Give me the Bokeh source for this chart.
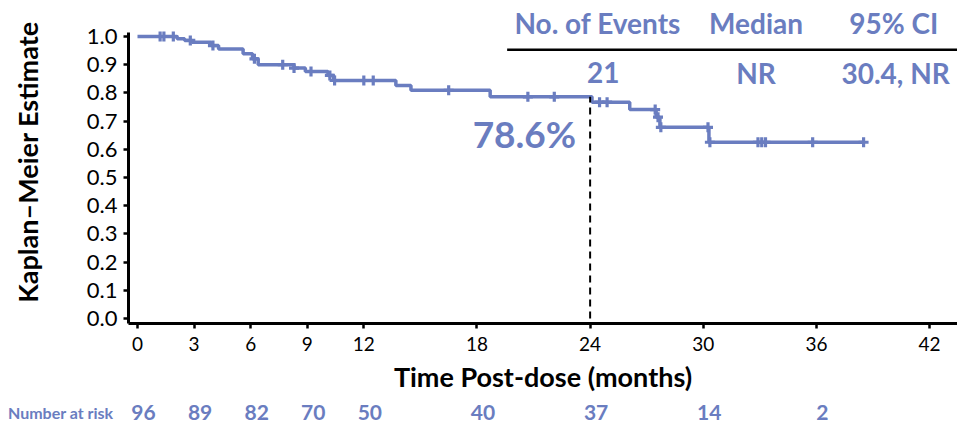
import numpy as np
from bokeh.plotting import figure
from bokeh.layouts import column
from bokeh.models import Label, FixedTicker, Range1d, NumeralTickFormatter
from bokeh.embed import file_html
from bokeh.resources import INLINE
from bokeh.core.properties import value

# ---- data ----
step_times = [0, 2.1, 2.5, 2.9, 3.9, 4.3, 5.6, 6.1, 6.4, 8.3, 8.9, 10.1, 10.4,
              13.7, 14.5, 18.7, 24.1, 26.1, 27.5, 27.7, 30.3]
step_surv = [1.0, 0.992, 0.986, 0.980, 0.968, 0.956, 0.939, 0.921, 0.900, 0.888,
             0.876, 0.862, 0.844, 0.826, 0.809, 0.786, 0.767, 0.741, 0.714, 0.678, 0.625]
last_followup = 38.5
censor_times = [1.2, 1.4, 1.9, 2.8, 4.0, 6.2, 7.7, 8.3, 9.2, 10.2, 10.45, 12.0, 12.5,
                16.5, 20.7, 22.1, 24.5, 24.9, 27.45, 27.6, 27.75, 30.25, 30.35,
                32.9, 33.1, 33.3, 35.8, 38.5]
x_ticks = [0, 3, 6, 9, 12, 18, 24, 30, 36, 42]
y_ticks = [0.0, 0.1, 0.2, 0.3, 0.4, 0.5, 0.6, 0.7, 0.8, 0.9, 1.0]
risk_times = [0, 3, 6, 9, 12, 18, 24, 30, 36]
risk_counts = ["96", "89", "82", "70", "50", "40", "37", "14", "2"]
risk_title = "Number at risk"
landmark_time = 24
landmark_surv = 0.786
landmark_text = "78.6%"
table_headers = ["No. of Events", "Median", "95% CI"]
table_header_x = [24.4, 32.8, 40.1]
table_values = ["21", "NR", "30.4, NR"]
table_value_x = [24.7, 32.8, 40.2]

BLUE = "#6A7DC0"
FONT = "Lato"

W = 957
LEFT = 128          # pixels left of the plot frame
X0, X1 = -0.477, 43.48
Y_AXIS_BOUNDS = (-0.0177, 1.014)
MAIN_H, RISK_H = 395, 31

# ---- main KM plot (frame reaches the top so the table header sits inside it) ----
p = figure(width=W, height=MAIN_H, output_backend="svg", toolbar_location=None,
           x_range=Range1d(X0, X1), y_range=Range1d(Y_AXIS_BOUNDS[0], 1.1277),
           min_border_left=LEFT, min_border_right=0, min_border_top=0, min_border_bottom=72)
p.outline_line_color = None
p.grid.visible = False

xs = list(step_times) + [last_followup]
ys = list(step_surv) + [step_surv[-1]]
p.step(xs, ys, mode="after", line_color=BLUE, line_width=3.5)

st = np.array(step_times)
sv = np.array(step_surv)
cens_y = [sv[np.searchsorted(st, t, side="right") - 1] for t in censor_times]
p.scatter(censor_times, cens_y, marker="cross", size=10, line_color=BLUE, line_width=3.2)

p.segment(x0=[landmark_time], y0=[0], x1=[landmark_time], y1=[landmark_surv],
          line_color="black", line_width=2, line_dash="7 5")
p.add_layout(Label(x=landmark_time, y=0.656, x_offset=-14, text=landmark_text,
                   text_align="right", text_baseline="middle",
                   text_font=FONT, text_font_style="bold", text_font_size="37px",
                   text_color=BLUE))

# results table
p.text(x=table_header_x, y=[1.0496] * 3, text=table_headers, text_align="center",
       text_baseline="middle", text_font=value(FONT), text_font_style="bold",
       text_font_size="28px", text_color=BLUE)
p.segment(x0=[19.6], y0=[0.953], x1=[X1], y1=[0.953], line_color="black", line_width=2.5)
p.text(x=table_value_x, y=[0.872] * 3, text=table_values, text_align="center",
       text_baseline="middle", text_font=value(FONT), text_font_style="bold",
       text_font_size="28px", text_color=BLUE)

p.xaxis.ticker = FixedTicker(ticks=x_ticks)
p.yaxis.ticker = FixedTicker(ticks=y_ticks)
p.yaxis.bounds = Y_AXIS_BOUNDS
p.yaxis.formatter = NumeralTickFormatter(format="0.0")
for ax in (p.xaxis[0], p.yaxis[0]):
    ax.axis_line_width = 3
    ax.axis_line_color = "black"
    ax.major_tick_line_width = 2.5
    ax.major_tick_line_color = "black"
    ax.major_tick_out = 5
    ax.major_tick_in = 0
    ax.minor_tick_line_color = None
    ax.major_label_text_font = FONT
    ax.major_label_text_color = "black"
    ax.axis_label_text_font = FONT
    ax.axis_label_text_font_style = "bold"
    ax.axis_label_text_font_size = "27px"
    ax.axis_label_text_color = "black"

p.xaxis.major_label_text_font_size = "19px"
p.yaxis.major_label_text_font_size = "22px"
p.xaxis.axis_label = "Time Post-dose (months)"
p.xaxis.major_label_standoff = 8
p.xaxis.axis_label_standoff = 6
p.yaxis.axis_label = "Kaplan–Meier Estimate"
p.yaxis.major_label_standoff = 6
p.yaxis.axis_label_standoff = 40

# ---- number at risk row ----
risk = figure(width=W, height=RISK_H, output_backend="svg", toolbar_location=None,
              x_range=Range1d(X0, X1), y_range=Range1d(0, 1),
              x_axis_location=None, y_axis_location="left",
              min_border_left=LEFT, min_border_right=0, min_border_top=0,
              min_border_bottom=0, outline_line_color=None)
risk.grid.visible = False
risk.yaxis.ticker = FixedTicker(ticks=[0.45])
risk.yaxis.major_label_overrides = {0.45: risk_title}
risk.yaxis.axis_line_color = None
risk.yaxis.major_tick_line_color = None
risk.yaxis.minor_tick_line_color = None
risk.yaxis.major_tick_out = 0
risk.yaxis.major_tick_in = 0
risk.yaxis.major_label_standoff = 15
risk.yaxis.major_label_text_font = FONT
risk.yaxis.major_label_text_font_style = "bold"
risk.yaxis.major_label_text_font_size = "16px"
risk.yaxis.major_label_text_color = BLUE
risk.text(x=risk_times, y=[0.45] * len(risk_times), text=risk_counts, x_offset=6,
          text_align="center", text_baseline="middle", text_font=value(FONT),
          text_font_style="bold", text_font_size="21px", text_color=BLUE)

layout = column(p, risk, spacing=0)
open("out.html", "w").write(file_html(layout, INLINE))
